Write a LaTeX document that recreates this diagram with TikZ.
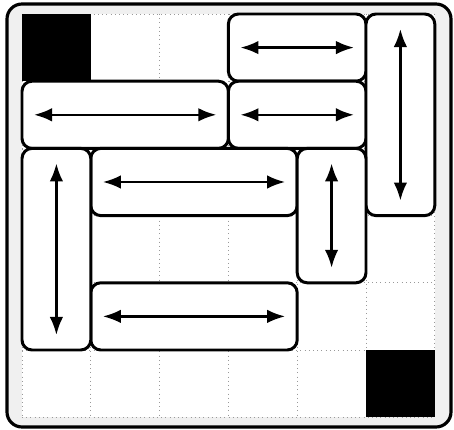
\documentclass[tikz,border=0pt]{standalone}
\usetikzlibrary{arrows.meta}

\begin{document}
\begin{tikzpicture}[x={(1.376cm,0)},y={(0,-1.344cm)},
  car/.style={draw,line width=1.7pt,rounded corners=0.2cm,fill=white,inner sep=0pt},
  slide/.style={{Latex[length=0.36cm,width=0.27cm]}-{Latex[length=0.36cm,width=0.27cm]},line width=1.4pt}]
\useasboundingbox (-0.44cm,0.28cm) rectangle (8.64cm,-8.32cm);
% board
\draw[line width=1.8pt,rounded corners=0.3cm,fill=gray!12] (-0.30cm,0.20cm) rectangle (8.58cm,-8.26cm);
\fill[white] (0,0) rectangle (6,6);
\foreach \k in {0,...,6}{
  \draw[dotted,gray!80] (\k,0) -- (\k,6);
  \draw[dotted,gray!80] (0,\k) -- (6,\k);
}
\fill (0,0) rectangle (1,1);
\fill (5,5) rectangle (6,6);
% horizontal cars: col/row/length/name
\foreach \c/\r/\l/\n in {3/0/2/a,0/1/3/b,3/1/2/c,1/2/3/d,1/4/3/e}{
  \node[car,minimum width=\l*1.376cm,minimum height=1.344cm] (h\n) at (\c+\l/2,\r+0.5) {};
  \draw[slide,shorten <=0.27cm,shorten >=0.27cm] (h\n.west) -- (h\n.east);
}
% vertical cars
\foreach \c/\r/\l/\n in {5/0/3/a,0/2/3/b,4/2/2/c}{
  \node[car,minimum width=1.376cm,minimum height=\l*1.344cm] (v\n) at (\c+0.5,\r+\l/2) {};
  \draw[slide,shorten <=0.33cm,shorten >=0.33cm] (v\n.north) -- (v\n.south);
}
\end{tikzpicture}
\end{document}
